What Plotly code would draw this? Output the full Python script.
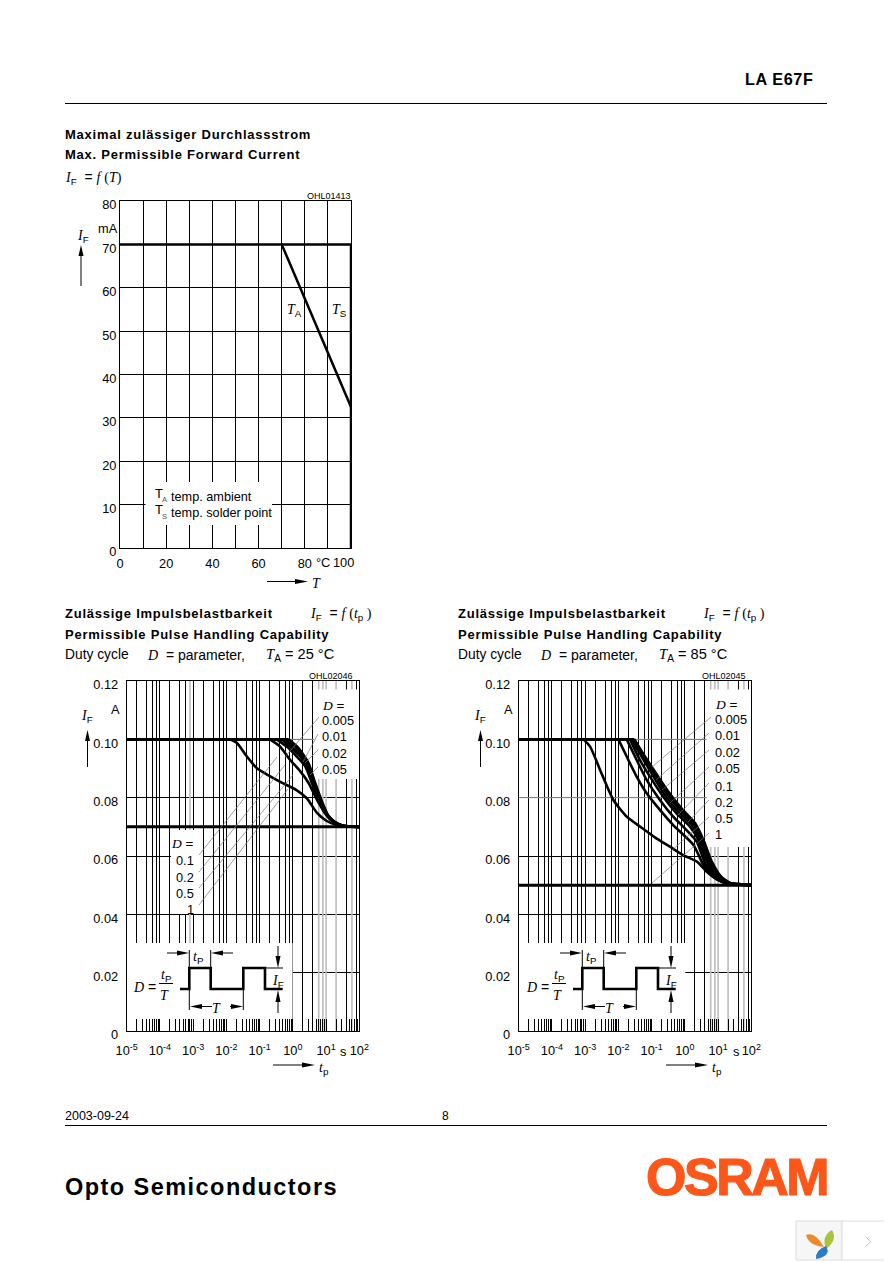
import math
import plotly.graph_objects as go

# ---------- data ----------
T_LINE = [0, 70, 100]
I_TA = [70, 70, 32.5]
T_TS = [70, 100, 100]
I_TS = [70, 70, 0]
T_GRID = [10, 20, 30, 40, 50, 60, 70, 80, 90]
T_TICKS = [0, 20, 40, 60, 80]
T_LABELS = ["0", "20", "40", "60", "80"]
IF_MA_TICKS = [0, 10, 20, 30, 40, 50, 60, 70, 80]
IF_A_TICKS = [0, 0.02, 0.04, 0.06, 0.08, 0.10, 0.12]
IF_A_LABELS = ["0", "0.02", "0.04", "0.06", "0.08", "0.10", "0.12"]
DECADES = [-5, -4, -3, -2, -1, 0, 1, 2]

# 25 C pulse curves: log10(tp), IF
lt25_d1 = [-5, -1.89, -1.69, -1.39, -1.09, -0.79, -0.39, 0.11, 0.42, 0.72, 1.02, 1.32, 1.62, 2]
if25_d1 = [.1, .1, .0988, .0942, .0902, .088, .0855, .0826, .0798, .0749, .072, .0706, .0701, .07]
lt25_d05 = [-5, -0.69, -0.39, -0.09, 0.22, 0.47, 0.72, 1.02, 1.32, 1.62, 2]
if25_d05 = [.1, .1, .0976, .0931, .0891, .0851, .0794, .0738, .0709, .0701, .07]
lt25_d02 = [-5, -0.49, -0.19, 0.11, 0.37, 0.57, 0.82, 1.12, 1.42, 1.72, 2]
if25_d02 = [.1, .1, .0976, .0942, .0908, .0851, .0783, .0726, .0706, .0701, .07]
lt25_d01 = [-5, -0.34, -0.09, 0.22, 0.47, 0.67, 0.92, 1.17, 1.47, 1.75, 2]
if25_d01 = [.1, .1, .0976, .0942, .0897, .0834, .0766, .0724, .0705, .0701, .07]
lt25_d005 = [-5, -0.27, 0.02, 0.32, 0.52, 0.72, 0.97, 1.22, 1.52, 1.78, 2]
if25_d005 = [.1, .1, .097, .0931, .0885, .0811, .0749, .0717, .0703, .0701, .07]
lt25_d002 = [-5, -0.21, 0.07, 0.37, 0.57, 0.77, 1.02, 1.27, 1.57, 1.8, 2]
if25_d002 = [.1, .1, .0976, .0931, .0874, .0806, .0743, .0715, .0702, .0701, .07]
lt25_d001 = [-5, -0.17, 0.12, 0.42, 0.62, 0.82, 1.05, 1.3, 1.6, 1.82, 2]
if25_d001 = [.1, .1, .0973, .0925, .0862, .0797, .074, .0713, .0702, .0701, .07]
lt25_d0005 = [-5, -0.13, 0.17, 0.47, 0.67, 0.87, 1.07, 1.32, 1.62, 1.85, 2]
if25_d0005 = [.1, .1, .097, .0919, .0851, .0789, .0738, .0711, .0702, .0701, .07]

# 85 C pulse curves
lt85_d1 = [-5, -3.05, -2.85, -2.55, -2.15, -1.75, -1.35, -0.9, -0.45, -0.05, 0.36, 0.66, 0.96, 1.26, 1.56, 2]
if85_d1 = [.1, .1, .0975, .0895, .0792, .0735, .0701, .0664, .0632, .0603, .0581, .0546, .052, .0506, .0503, .05]
lt85_d05 = [-5, -2.0, -1.75, -1.45, -1.15, -0.75, -0.35, 0.26, 0.56, 0.86, 1.16, 1.46, 2]
if85_d05 = [.1, .1, .0941, .0872, .0815, .0758, .0706, .0638, .0569, .0529, .0509, .0503, .05]
lt85_d02 = [-5, -1.75, -1.45, -1.15, -0.75, -0.35, 0.05, 0.36, 0.61, 0.91, 1.21, 1.51, 2]
if85_d02 = [.1, .1, .0929, .0861, .0792, .0735, .0689, .0649, .0575, .0529, .0509, .0503, .05]
lt85_d01 = [-5, -1.65, -1.35, -1.05, -0.65, -0.25, 0.16, 0.41, 0.66, 0.96, 1.26, 1.56, 2]
if85_d01 = [.1, .1, .0929, .0872, .0803, .0746, .07, .0655, .0581, .0531, .0509, .0503, .05]
lt85_d005 = [-5, -1.6, -1.3, -1.0, -0.6, -0.2, 0.21, 0.46, 0.71, 1.01, 1.31, 1.61, 2]
if85_d005 = [.1, .1, .0941, .0883, .0809, .0752, .0706, .0655, .0581, .0529, .0507, .0503, .05]
lt85_d002 = [-5, -1.55, -1.25, -0.95, -0.55, -0.15, 0.26, 0.51, 0.76, 1.06, 1.36, 1.66, 2]
if85_d002 = [.1, .1, .0941, .0883, .0815, .0758, .071, .0655, .0581, .0527, .0506, .0503, .05]
lt85_d001 = [-5, -1.53, -1.22, -0.92, -0.52, -0.12, 0.29, 0.54, 0.79, 1.09, 1.39, 1.69, 2]
if85_d001 = [.1, .1, .0941, .0886, .0818, .076, .0711, .0655, .0581, .0527, .0506, .0503, .05]
lt85_d0005 = [-5, -1.52, -1.2, -0.9, -0.5, -0.1, 0.31, 0.56, 0.81, 1.11, 1.41, 1.71, 2]
if85_d0005 = [.1, .1, .0941, .0889, .0821, .0763, .0712, .0655, .0581, .0527, .0506, .0503, .05]

CURVES_25 = [(lt25_d1, if25_d1), (lt25_d05, if25_d05), (lt25_d02, if25_d02), (lt25_d01, if25_d01),
             (lt25_d005, if25_d005), (lt25_d002, if25_d002), (lt25_d001, if25_d001), (lt25_d0005, if25_d0005)]
CURVES_85 = [(lt85_d1, if85_d1), (lt85_d05, if85_d05), (lt85_d02, if85_d02), (lt85_d01, if85_d01),
             (lt85_d005, if85_d005), (lt85_d002, if85_d002), (lt85_d001, if85_d001), (lt85_d0005, if85_d0005)]
FLOOR_25 = 0.07
FLOOR_85 = 0.05

# ---------- page geometry ----------
OFF = 8
W, H = 892 - OFF, 1263 - OFF
SANS = "Liberation Sans"
SERIF = "Liberation Serif"
FS = 12.8


def px(x):
    return (x - OFF) / W


def py(y):
    return 1 - (y - OFF) / H


fig = go.Figure()
shapes = []
annos = []


def txt(x, y, text, size=FS, anchor="left", family=SANS, color="#000", vanchor="middle"):
    annos.append(dict(x=px(x), y=py(y), xref="paper", yref="paper", text=text, showarrow=False,
                      xanchor=anchor, yanchor=vanchor, borderpad=0, borderwidth=0,
                      font=dict(family=family, size=size, color=color)))


def spaced(s, sp):
    return f'<span style="letter-spacing:{sp}px">{s}</span>'


def line(x0, y0, x1, y1, width=1.0, color="#000"):
    shapes.append(dict(type="line", xref="paper", yref="paper", x0=px(x0), y0=py(y0), x1=px(x1), y1=py(y1),
                       line=dict(color=color, width=width), layer="above"))


def path(cmds, fill=None, width=0, color="#000"):
    parts = []
    for c in cmds:
        if isinstance(c, str):
            parts.append(c)
        else:
            parts.append(f"{px(c[0]):.5f},{py(c[1]):.5f}")
    d = dict(type="path", xref="paper", yref="paper", path=" ".join(parts), layer="above",
             line=dict(color=color, width=width))
    if fill:
        d["fillcolor"] = fill
    shapes.append(d)


def arrow(x0, y0, x1, y1, hl=10, hw=2.8, width=1.0):
    dx, dy = x1 - x0, y1 - y0
    n = math.hypot(dx, dy)
    ux, uy = dx / n, dy / n
    bx, by = x1 - ux * hl, y1 - uy * hl
    line(x0, y0, bx, by, width)
    path(["M", (x1, y1), "L", (bx - uy * hw, by + ux * hw), "L", (bx + uy * hw, by - ux * hw), "Z"], fill="#000")


def it(s):
    return f'<span style="font-family:{SERIF}"><i>{s}</i></span>'


def I(letter, sub):
    return f'{it(letter)}<sub><span style="font-family:{SANS}">{sub}</span></sub>'


# ---------- axes ----------
def axis_x_dom(L, R):
    return [px(L), px(R)]


def axis_y_dom(T, B):
    return [py(B), py(T)]


L1, R1, T1, B1 = 120, 351, 201, 548
L2, R2, T2, B2 = 126.7, 359.3, 681, 1031
L3, R3, T3, B3 = 518.7, 751.3, 681, 1031

fig.update_layout(
    width=W, height=H, autosize=False, margin=dict(l=0, r=0, t=0, b=0, pad=0, autoexpand=False),
    paper_bgcolor="#fff", plot_bgcolor="#fff", showlegend=False,
    xaxis=dict(domain=axis_x_dom(L1, R1), range=[0, 100], anchor="y", tickmode="array",
               tickvals=T_TICKS, ticktext=T_LABELS, showgrid=False,
               showline=True, mirror=True, linecolor="#000", linewidth=1, ticks="", zeroline=False,
               tickfont=dict(family=SANS, size=FS, color="#000"), ticklabelstandoff=4,
               minor=dict(tickmode="array", tickvals=T_GRID, ticks="", showgrid=True, gridcolor="#000", gridwidth=1)),
    yaxis=dict(domain=axis_y_dom(T1, B1), range=[0, 80], anchor="x", tickmode="array",
               tickvals=IF_MA_TICKS, showgrid=True, gridcolor="#000", gridwidth=1,
               showline=True, mirror=True, linecolor="#000", linewidth=1, ticks="", zeroline=False,
               tickfont=dict(family=SANS, size=FS, color="#000"), ticklabelstandoff=0, ticklabelshift=4),
)

GRID_MANT = [2, 4, 6, 8, 10]
GRAY_VALUES = [6, 8, 10, 20, 60]


def log_axes(xname, yname, gname, L, R, T, B, extra_gray):
    gray = GRAY_VALUES + extra_gray
    grid = [m * 10.0 ** k for k in DECADES[:-1] for m in GRID_MANT]
    grid = [g for g in grid if not any(abs(g - v) / v < 1e-6 for v in gray)]
    ticks = [10.0 ** k for k in DECADES]
    labels = [f"10<sup>{k}</sup>" for k in DECADES]
    minor = [m * 10.0 ** k for k in DECADES[:-1] for m in range(2, 10)]
    xa = xname.replace("axis", "")
    ya = yname.replace("axis", "")
    fig.update_layout(**{
        xname: dict(type="log", domain=axis_x_dom(L, R), range=[-5, 2], anchor=ya,
                    tickmode="array", tickvals=ticks, ticktext=labels, ticks="inside", ticklen=12, tickwidth=1,
                    tickcolor="#000", showgrid=False, showline=True, mirror=True, linecolor="#000", linewidth=1,
                    tickfont=dict(family=SANS, size=FS, color="#000"), ticklabelstandoff=8, zeroline=False,
                    minor=dict(tickmode="array", tickvals=minor, ticks="inside", ticklen=12, tickwidth=1,
                               tickcolor="#000", showgrid=False)),
        gname: dict(type="log", domain=axis_x_dom(L, R), range=[-5, 2], anchor=ya, overlaying=xa,
                    tickmode="array", tickvals=grid, showticklabels=False, ticks="", showgrid=True,
                    gridcolor="#000", gridwidth=1, showline=False, zeroline=False),
        yname: dict(domain=axis_y_dom(T, B), range=[0, 0.12], anchor=xa,
                    tickmode="array", tickvals=IF_A_TICKS, ticktext=IF_A_LABELS, ticks="", showgrid=True,
                    gridcolor="#000", gridwidth=1, showline=True, mirror=True, linecolor="#000", linewidth=1,
                    tickfont=dict(family=SANS, size=FS, color="#000"), ticklabelstandoff=5, ticklabelshift=4,
                    zeroline=False),
    })


log_axes("xaxis2", "yaxis2", "xaxis4", L2, R2, T2, B2, [8e-4])
log_axes("xaxis3", "yaxis3", "xaxis5", L3, R3, T3, B3, [])


def mask(xr, yr, L, R, T, B, xtype, xrange, yrange, x0, y0, x1, y1):
    def dx(v):
        f = (v - L) / (R - L)
        val = xrange[0] + f * (xrange[1] - xrange[0])
        return 10 ** val if xtype == "log" else val

    def dy(v):
        f = (B - v) / (B - T)
        return yrange[0] + f * (yrange[1] - yrange[0])

    shapes.append(dict(type="rect", xref=xr, yref=yr, x0=dx(x0), x1=dx(x1), y0=dy(y1), y1=dy(y0),
                       fillcolor="#fff", line=dict(width=0), layer="between"))


def gray_grid(xr, yr, xs, ys):
    for v in xs:
        shapes.append(dict(type="line", xref=xr, yref=yr, x0=v, x1=v, y0=0, y1=0.12,
                           line=dict(color="#bdbdbd", width=1.6), layer="between"))
    for v in ys:
        shapes.append(dict(type="line", xref=xr, yref=yr, x0=1e-5, x1=100, y0=v, y1=v,
                           line=dict(color="#9a9a9a", width=1), layer="between"))


gray_grid("x2", "y2", GRAY_VALUES + [8e-4], [0.10])
gray_grid("x3", "y3", GRAY_VALUES, [0.10, 0.08])

# masks behind inset diagrams and labels
mask("x", "y", L1, R1, T1, B1, "linear", [0, 100], [0, 80], 145.5, 482, 272, 525)
for (x0, y0, x1, y1) in [(L2, 943, 292.6, B2), (314, 689.5, R2, 779), (171, 830, 203, 914)]:
    mask("x2", "y2", L2, R2, T2, B2, "log", [-5, 2], [0, 0.12], x0, y0, x1, y1)
for (x0, y0, x1, y1) in [(L3, 943, 685.2, B3), (706.6, 689.5, R3, 847)]:
    mask("x3", "y3", L3, R3, T3, B3, "log", [-5, 2], [0, 0.12], x0, y0, x1, y1)

# ---------- traces ----------
fig.add_trace(go.Scatter(x=T_LINE, y=I_TA, mode="lines", xaxis="x", yaxis="y", line=dict(color="#000", width=2.5), cliponaxis=False))
fig.add_trace(go.Scatter(x=T_TS, y=I_TS, mode="lines", xaxis="x", yaxis="y", line=dict(color="#000", width=2.5), cliponaxis=False))


def add_curves(curves, floor, xa, ya, ga):
    fig.add_trace(go.Scatter(x=[1e-5, 100], y=[floor, floor], mode="lines", xaxis=ga, yaxis=ya,
                             line=dict(color="#000", width=3)))
    for lt, cur in curves:
        # flat limit up to the knee, then the smooth fall-off
        fig.add_trace(go.Scatter(x=[10 ** v for v in lt[:2]], y=cur[:2], mode="lines", xaxis=xa, yaxis=ya,
                                 line=dict(color="#000", width=2.8)))
        fig.add_trace(go.Scatter(x=[10 ** v for v in lt[1:]], y=cur[1:], mode="lines", xaxis=xa, yaxis=ya,
                                 line=dict(color="#000", width=2.6, shape="spline", smoothing=0.6)))


add_curves(CURVES_25, FLOOR_25, "x2", "y2", "x4")
add_curves(CURVES_85, FLOOR_85, "x3", "y3", "x5")

# ---------- page furniture ----------
line(65, 103.5, 827, 103.5)
line(65, 1125.5, 827, 1125.5)
txt(813, 79, "<b>" + spaced("LA E67F", 0.6) + "</b>", size=16.2, anchor="right")
txt(65, 1116, "2003-09-24", size=12.5)
txt(445, 1116, "8", size=12, anchor="center")
txt(65, 1187, "<b>" + spaced("Opto Semiconductors", 1.45) + "</b>", size=23.5)
txt(736, 1177, '<b><span style="letter-spacing:-2.5px;stroke:#FC5719;stroke-width:1.2px">OSRAM</span></b>',
    size=52, anchor="center", color="#FC5719")

# widget in the lower-right corner
shapes.append(dict(type="rect", xref="paper", yref="paper", x0=px(796), x1=px(842), y0=py(1221), y1=py(1260),
                   fillcolor="#f6f6f6", line=dict(color="#dddddd", width=1), layer="above"))
shapes.append(dict(type="rect", xref="paper", yref="paper", x0=px(842), x1=px(891.5), y0=py(1221), y1=py(1260),
                   fillcolor="#ffffff", line=dict(color="#dddddd", width=1), layer="above"))
path(["M", (806, 1235), "Q", (815, 1231), (824, 1247), "Q", (809, 1246), (806, 1235), "Z"], fill="#EE8A2E")
path(["M", (832, 1230), "Q", (838, 1240), (826, 1249), "Q", (821, 1236), (832, 1230), "Z"], fill="#A8C43C")
path(["M", (816, 1259), "Q", (815, 1250), (826, 1246), "Q", (832, 1256), (816, 1259), "Z"], fill="#2B7CC4")
path(["M", (865.7, 1236.7), "L", (870.7, 1241.7), "L", (865.7, 1246.7)], width=1, color="#bbbbbb")

BOLD_SP = 0.76
# chart 1 headers
txt(65, 135, "<b>" + spaced("Maximal zulässiger Durchlassstrom", BOLD_SP) + "</b>", size=13)
txt(65, 155, "<b>" + spaced("Max. Permissible Forward Current", BOLD_SP) + "</b>", size=13)
txt(65, 178, I("I", "F") + " &#160;= " + it("f") + f' <span style="font-family:{SERIF}">(</span>' + it("T") + f'<span style="font-family:{SERIF}">)</span>', size=14)
txt(351, 196, "OHL01413", size=9, anchor="right")
txt(118, 228, "mA", anchor="right")
txt(83, 236, I("I", "F"), size=14, anchor="center")
arrow(81, 286, 81, 245, hl=11, hw=2.5)
arrow(267, 581.5, 308, 581.5, hl=13, hw=2.5)
txt(316, 583, it("T"), size=14, anchor="center")
txt(316, 562.5, "°C")
txt(353.5, 562.5, "100", anchor="right")
txt(294, 311, I("T", "A"), size=14, anchor="center")
txt(339, 311, I("T", "S"), size=14, anchor="center")
txt(155, 493, "T", size=13)
txt(161.5, 500, "A", size=7.5, color="#555")
txt(171, 497, "temp. ambient", size=12.7)
txt(155, 509, "T", size=13)
txt(161.5, 517, "S", size=7.5, color="#555")
txt(171, 513, "temp. solder point", size=12.7)


def pulse_chart(dx, ohl, temp):
    txt(65 + dx, 613, "<b>" + spaced("Zulässige Impulsbelastbarkeit", BOLD_SP) + "</b>", size=13)
    txt(310 + dx, 614, I("I", "F") + " &#160;= " + it("f") + f' <span style="font-family:{SERIF}">(</span>' + it("t") +
        f'<sub>p</sub><span style="font-family:{SERIF}"> )</span>', size=14)
    txt(65 + dx, 634, "<b>" + spaced("Permissible Pulse Handling Capability", BOLD_SP) + "</b>", size=13)
    txt(65 + dx, 654, "Duty cycle", size=13.8)
    txt(147 + dx, 655, it("D") + " &#160;= parameter,", size=14)
    txt(266 + dx, 655, I("T", "A") + f" = {temp} °C", size=14.6)
    txt(353 + dx, 676, ohl, size=9, anchor="right")
    txt(87 + dx, 716, I("I", "F"), size=14, anchor="center")
    txt(115 + dx, 709, "A", anchor="center")
    arrow(87.5 + dx, 767, 87.5 + dx, 730, hl=11, hw=2.5)
    arrow(273 + dx, 1065, 315 + dx, 1065, hl=13, hw=2.5)
    txt(324 + dx, 1068, it("t") + "<sub>p</sub>", size=14, anchor="center")
    txt(343 + dx, 1051, "s", anchor="center")
    # inset
    txt(133 + dx, 987, it("D") + " =", size=14)
    txt(166 + dx, 975, I("t", "P"), size=14, anchor="center")
    line(159 + dx, 983.5, 173 + dx, 983.5)
    txt(164 + dx, 995, it("T"), size=14, anchor="center")
    xs = [180, 189.3, 189.3, 210.7, 210.7, 243.3, 243.3, 265, 265, 282.7]
    ys = [989, 989, 968, 968, 989, 989, 968, 968, 989, 989]
    cmds = []
    for i, (a, b) in enumerate(zip(xs, ys)):
        cmds += ["M" if i == 0 else "L", (a + dx, b)]
    path(cmds, width=2.6)
    line(189.3 + dx, 950, 189.3 + dx, 968)
    line(210.7 + dx, 950, 210.7 + dx, 968)
    arrow(167 + dx, 953, 189 + dx, 953, hl=12, hw=2.5)
    arrow(233 + dx, 953, 211 + dx, 953, hl=12, hw=2.5)
    txt(198.5 + dx, 957, I("t", "P"), size=14, anchor="center")
    line(189.3 + dx, 989, 189.3 + dx, 1010)
    line(243.3 + dx, 989, 243.3 + dx, 1010)
    arrow(212 + dx, 1006.5, 190 + dx, 1006.5, hl=12, hw=2.5)
    arrow(230 + dx, 1006.5, 243 + dx, 1006.5, hl=12, hw=2.5)
    txt(216 + dx, 1008, it("T"), size=14, anchor="center")
    line(265 + dx, 968, 283 + dx, 968)
    arrow(278 + dx, 946, 278 + dx, 968, hl=12, hw=2.5)
    arrow(278 + dx, 1013, 278 + dx, 990, hl=12, hw=2.5)
    txt(278 + dx, 981, I("I", "F"), size=14, anchor="center")


pulse_chart(0, "OHL02046", 25)
pulse_chart(393, "OHL02045", 85)

# chart 2 labels + leaders
DX2 = 322
txt(DX2, 705, it("D") + " =", size=13.5)
for lab, y in zip(["0.005", "0.01", "0.02", "0.05"], [720, 736, 753, 769]):
    txt(DX2, y, lab)
txt(194, 843, it("D") + " =", size=13.5, anchor="right")
for lab, y in zip(["0.1", "0.2", "0.5", "1"], [860, 877, 893, 909]):
    txt(194, y, lab, anchor="right")
LC = "#777777"
for seg in [(319, 717, 285, 757), (318, 734, 303, 762), (318, 750, 305, 763), (318, 767, 310, 775),
            (199, 855, 277, 757), (199, 872, 285, 765), (199, 888, 293, 775), (199, 905, 288, 789)]:
    line(*seg, width=0.7, color=LC)

# chart 3 labels + leaders
DX3 = 715
txt(DX3, 704, it("D") + " =", size=13.5)
for lab, y in zip(["0.005", "0.01", "0.02", "0.05", "0.1", "0.2", "0.5", "1"],
                  [719, 735, 752, 768, 786, 802, 818, 834]):
    txt(DX3, y, lab)
for seg in [(711, 717, 652, 767), (709, 733, 656, 780), (709, 750, 662, 790), (709, 767, 670, 803),
            (709, 783, 678, 815), (709, 800, 688, 822), (709, 817, 670, 852), (709, 833, 652, 883)]:
    line(*seg, width=0.7, color=LC)

fig.update_layout(shapes=shapes, annotations=annos)
fig.write_html("out.html")
